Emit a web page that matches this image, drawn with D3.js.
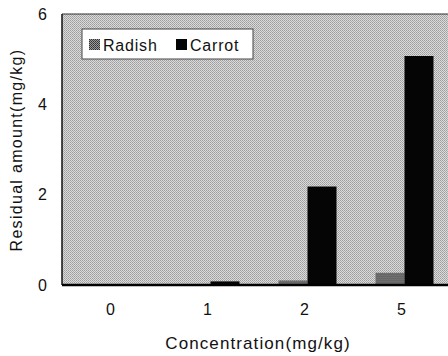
<!DOCTYPE html>
<html>
  <head>
    <meta charset="utf-8"/>
    <style>
    body {
      font-family: "Liberation Sans", Arial, sans-serif;
      margin: 0;
      background: #fff;
    }
    </style>
  </head>
  <body>
    <script src="https://d3js.org/d3.v7.min.js"></script>
    <script>
    var categories = ["0", "1", "2", "5"];
    var seriesNames = ["Radish", "Carrot"];
    var radish = [0, 0.02, 0.1, 0.27];
    var carrot = [0, 0.08, 2.18, 5.07];
    var yTicks = [0, 2, 4, 6];

    var width = 448, height = 356;
    var margin = {top: 14, right: -2, bottom: 71, left: 62};

    var svg = d3.select("body").append("svg")
        .attr("width", width)
        .attr("height", height);

    // halftone-like fills
    var defs = svg.append("defs");
    var bg = defs.append("pattern")
        .attr("id", "bgpat")
        .attr("width", 2).attr("height", 2)
        .attr("patternUnits", "userSpaceOnUse");
    bg.append("rect").attr("width", 2).attr("height", 2).attr("fill", "#dcdcdc");
    bg.append("rect").attr("width", 1).attr("height", 1).attr("fill", "#9c9c9c");
    bg.append("rect").attr("x", 1).attr("y", 1).attr("width", 1).attr("height", 1).attr("fill", "#aaaaaa");

    var rp = defs.append("pattern")
        .attr("id", "radpat")
        .attr("width", 2).attr("height", 2)
        .attr("patternUnits", "userSpaceOnUse");
    rp.append("rect").attr("width", 2).attr("height", 2).attr("fill", "#9a9a9a");
    rp.append("rect").attr("width", 1).attr("height", 1).attr("fill", "#333");
    rp.append("rect").attr("x", 1).attr("y", 1).attr("width", 1).attr("height", 1).attr("fill", "#444");

    var colors = {Radish: "url(#radpat)", Carrot: "#050505"};

    var innerW = width - margin.left - margin.right;
    var innerH = height - margin.top - margin.bottom;

    var x = d3.scaleBand()
        .domain(categories)
        .range([0, innerW]);

    var x1 = d3.scaleBand()
        .domain(seriesNames)
        .range([0, 58])
        .padding(0);

    var y = d3.scaleLinear()
        .domain([0, 6])
        .range([innerH, 0]);

    var g = svg.append("g")
        .attr("transform", "translate(" + margin.left + "," + margin.top + ")");

    g.append("rect")
        .attr("width", innerW)
        .attr("height", innerH)
        .attr("fill", "url(#bgpat)");

    var rows = categories.map(function(c, i) {
      return {cat: c, values: [{name: "Radish", v: radish[i]}, {name: "Carrot", v: carrot[i]}]};
    });

    var groups = g.selectAll(".grp")
        .data(rows)
      .enter().append("g")
        .attr("class", "grp")
        .attr("transform", function(d) {
          return "translate(" + (x(d.cat) + x.bandwidth() / 2 - 29 + 3) + ",0)";
        });

    groups.selectAll("rect")
        .data(function(d) { return d.values; })
      .enter().append("rect")
        .attr("x", function(d) { return x1(d.name); })
        .attr("width", x1.bandwidth())
        .attr("y", function(d) { return y(d.v); })
        .attr("height", function(d) { return innerH - y(d.v); })
        .attr("fill", function(d) { return colors[d.name]; });

    // frame lines
    g.append("line")
        .attr("x1", 0).attr("x2", innerW)
        .attr("y1", 0).attr("y2", 0)
        .attr("stroke", "#333").attr("stroke-width", 1);
    g.append("line")
        .attr("x1", 0).attr("x2", 0)
        .attr("y1", 0).attr("y2", innerH)
        .attr("stroke", "#111").attr("stroke-width", 1.5);
    g.append("line")
        .attr("x1", 0).attr("x2", innerW)
        .attr("y1", innerH).attr("y2", innerH)
        .attr("stroke", "#000").attr("stroke-width", 2.5);

    // y axis labels
    var yAxis = g.append("g")
        .call(d3.axisLeft(y).tickValues(yTicks).tickFormat(d3.format("d")).tickSize(0).tickPadding(15));
    yAxis.select(".domain").remove();
    yAxis.selectAll("text")
        .attr("font-family", "Liberation Sans, Arial, sans-serif")
        .attr("font-size", 16)
        .attr("fill", "#111");

    // x axis labels
    var xAxis = g.append("g")
        .attr("transform", "translate(0," + innerH + ")")
        .call(d3.axisBottom(x).tickSize(0).tickPadding(19));
    xAxis.select(".domain").remove();
    xAxis.selectAll("text")
        .attr("font-family", "Liberation Sans, Arial, sans-serif")
        .attr("font-size", 16)
        .attr("fill", "#111");

    svg.append("text")
        .attr("x", 258)
        .attr("y", 349)
        .attr("text-anchor", "middle")
        .attr("font-size", 17)
        .attr("letter-spacing", 1.1)
        .attr("fill", "#111")
        .text("Concentration(mg/kg)");

    svg.append("text")
        .attr("transform", "translate(22,150) rotate(-90)")
        .attr("text-anchor", "middle")
        .attr("font-size", 16)
        .attr("letter-spacing", 1.3)
        .attr("fill", "#111")
        .text("Residual amount(mg/kg)");

    // legend
    var legend = svg.append("g")
        .attr("transform", "translate(82,29)");
    legend.append("rect")
        .attr("width", 171)
        .attr("height", 30)
        .attr("fill", "#fff")
        .attr("stroke", "#444")
        .attr("stroke-width", 1);
    var items = legend.selectAll(".item")
        .data(seriesNames)
      .enter().append("g")
        .attr("class", "item")
        .attr("transform", function(d, i) { return "translate(" + (i === 0 ? 7 : 94) + ",0)"; });
    items.append("rect")
        .attr("y", 10)
        .attr("width", 11)
        .attr("height", 11)
        .attr("fill", function(d) { return colors[d]; });
    items.append("text")
        .attr("x", 14)
        .attr("y", 21.5)
        .attr("font-size", 16)
        .attr("letter-spacing", 0.8)
        .attr("fill", "#111")
        .text(function(d) { return d; });
    </script>
  </body>
</html>
